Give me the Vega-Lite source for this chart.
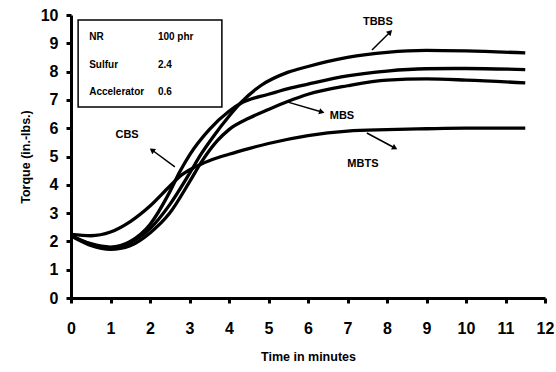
{
  "$schema": "https://vega.github.io/schema/vega-lite/v6.json",
  "width": 474,
  "height": 283,
  "autosize": {"type": "none"},
  "padding": {"left": 71, "top": 15, "right": 11, "bottom": 74},
  "background": "white",
  "config": {
    "view": {"stroke": null},
    "font": "Liberation Sans",
    "axis": {
      "grid": false,
      "domainColor": "black",
      "domainWidth": 3,
      "tickColor": "black",
      "tickWidth": 3,
      "tickSize": 5,
      "labelOverlap": false,
      "labelFlush": false,
      "labelFont": "Liberation Sans",
      "labelFontWeight": "bold",
      "labelFontSize": 16,
      "labelColor": "black",
      "titleFont": "Liberation Sans",
      "titleFontWeight": "bold",
      "titleFontSize": 12.5,
      "titleColor": "black"
    },
    "axisX": {"tickCount": 12, "labelPadding": 17, "titlePadding": 14},
    "axisY": {"tickCount": 10, "labelPadding": 8, "titlePadding": 8}
  },
  "datasets": {
    "curves": [
      {"t": 0, "torque": 2.25, "compound": "MBTS"},
      {"t": 0.5, "torque": 2.2, "compound": "MBTS"},
      {"t": 1, "torque": 2.33, "compound": "MBTS"},
      {"t": 1.5, "torque": 2.7, "compound": "MBTS"},
      {"t": 2, "torque": 3.25, "compound": "MBTS"},
      {"t": 2.5, "torque": 3.95, "compound": "MBTS"},
      {"t": 2.8, "torque": 4.35, "compound": "MBTS"},
      {"t": 3.1, "torque": 4.6, "compound": "MBTS"},
      {"t": 3.5, "torque": 4.85, "compound": "MBTS"},
      {"t": 4, "torque": 5.08, "compound": "MBTS"},
      {"t": 4.5, "torque": 5.28, "compound": "MBTS"},
      {"t": 5, "torque": 5.46, "compound": "MBTS"},
      {"t": 6, "torque": 5.74, "compound": "MBTS"},
      {"t": 7, "torque": 5.9, "compound": "MBTS"},
      {"t": 8, "torque": 5.95, "compound": "MBTS"},
      {"t": 9, "torque": 5.98, "compound": "MBTS"},
      {"t": 10, "torque": 6.0, "compound": "MBTS"},
      {"t": 11.5, "torque": 6.0, "compound": "MBTS"},

      {"t": 0, "torque": 2.2, "compound": "CBS"},
      {"t": 0.5, "torque": 1.92, "compound": "CBS"},
      {"t": 1, "torque": 1.8, "compound": "CBS"},
      {"t": 1.5, "torque": 2.0, "compound": "CBS"},
      {"t": 2, "torque": 2.6, "compound": "CBS"},
      {"t": 2.5, "torque": 3.75, "compound": "CBS"},
      {"t": 2.75, "torque": 4.45, "compound": "CBS"},
      {"t": 3, "torque": 5.05, "compound": "CBS"},
      {"t": 3.5, "torque": 5.95, "compound": "CBS"},
      {"t": 4, "torque": 6.6, "compound": "CBS"},
      {"t": 4.3, "torque": 6.88, "compound": "CBS"},
      {"t": 5, "torque": 7.2, "compound": "CBS"},
      {"t": 5.5, "torque": 7.4, "compound": "CBS"},
      {"t": 6, "torque": 7.56, "compound": "CBS"},
      {"t": 7, "torque": 7.85, "compound": "CBS"},
      {"t": 8, "torque": 8.02, "compound": "CBS"},
      {"t": 9, "torque": 8.1, "compound": "CBS"},
      {"t": 10, "torque": 8.11, "compound": "CBS"},
      {"t": 11.5, "torque": 8.07, "compound": "CBS"},

      {"t": 0, "torque": 2.2, "compound": "TBBS"},
      {"t": 0.5, "torque": 1.9, "compound": "TBBS"},
      {"t": 1, "torque": 1.77, "compound": "TBBS"},
      {"t": 1.5, "torque": 1.95, "compound": "TBBS"},
      {"t": 2, "torque": 2.45, "compound": "TBBS"},
      {"t": 2.5, "torque": 3.3, "compound": "TBBS"},
      {"t": 3, "torque": 4.4, "compound": "TBBS"},
      {"t": 3.3, "torque": 5.1, "compound": "TBBS"},
      {"t": 3.6, "torque": 5.7, "compound": "TBBS"},
      {"t": 4, "torque": 6.42, "compound": "TBBS"},
      {"t": 4.3, "torque": 6.9, "compound": "TBBS"},
      {"t": 4.8, "torque": 7.5, "compound": "TBBS"},
      {"t": 5.5, "torque": 7.98, "compound": "TBBS"},
      {"t": 6, "torque": 8.18, "compound": "TBBS"},
      {"t": 7, "torque": 8.5, "compound": "TBBS"},
      {"t": 8, "torque": 8.68, "compound": "TBBS"},
      {"t": 9, "torque": 8.75, "compound": "TBBS"},
      {"t": 10, "torque": 8.73, "compound": "TBBS"},
      {"t": 11.5, "torque": 8.66, "compound": "TBBS"},

      {"t": 0, "torque": 2.2, "compound": "MBS"},
      {"t": 0.5, "torque": 1.86, "compound": "MBS"},
      {"t": 1, "torque": 1.72, "compound": "MBS"},
      {"t": 1.5, "torque": 1.85, "compound": "MBS"},
      {"t": 2, "torque": 2.3, "compound": "MBS"},
      {"t": 2.5, "torque": 3.0, "compound": "MBS"},
      {"t": 3, "torque": 4.1, "compound": "MBS"},
      {"t": 3.3, "torque": 4.8, "compound": "MBS"},
      {"t": 3.7, "torque": 5.55, "compound": "MBS"},
      {"t": 4, "torque": 5.95, "compound": "MBS"},
      {"t": 4.5, "torque": 6.35, "compound": "MBS"},
      {"t": 5, "torque": 6.66, "compound": "MBS"},
      {"t": 5.5, "torque": 6.95, "compound": "MBS"},
      {"t": 6, "torque": 7.2, "compound": "MBS"},
      {"t": 7, "torque": 7.5, "compound": "MBS"},
      {"t": 8, "torque": 7.7, "compound": "MBS"},
      {"t": 9, "torque": 7.74, "compound": "MBS"},
      {"t": 10, "torque": 7.7, "compound": "MBS"},
      {"t": 11.5, "torque": 7.6, "compound": "MBS"}
    ],
    "box": [{"x1": 0.18, "x2": 3.82, "y1": 6.75, "y2": 9.82}],
    "legendText": [
      {"x": 0.46, "y": 9.22, "label": "NR"},
      {"x": 2.2, "y": 9.22, "label": "100 phr"},
      {"x": 0.46, "y": 8.23, "label": "Sulfur"},
      {"x": 2.2, "y": 8.23, "label": "2.4"},
      {"x": 0.46, "y": 7.28, "label": "Accelerator"},
      {"x": 2.2, "y": 7.28, "label": "0.6"}
    ],
    "arrows": [
      {"name": "TBBS", "x1": 7.62, "y1": 8.76, "x2": 8.08, "y2": 9.4, "angle": 45, "lx": 7.77, "ly": 9.75},
      {"name": "MBS", "x1": 5.47, "y1": 6.93, "x2": 6.35, "y2": 6.57, "angle": 106, "lx": 6.86, "ly": 6.43},
      {"name": "MBTS", "x1": 7.49, "y1": 5.83, "x2": 8.2, "y2": 5.3, "angle": 118, "lx": 7.39, "ly": 4.73},
      {"name": "CBS", "x1": 2.63, "y1": 4.63, "x2": 2.05, "y2": 5.23, "angle": 306, "lx": 1.42, "ly": 5.76}
    ]
  },
  "layer": [
    {
      "data": {"name": "curves"},
      "mark": {"type": "line", "color": "black", "strokeWidth": 3.3, "interpolate": "monotone"},
      "encoding": {
        "x": {
          "field": "t", "type": "quantitative",
          "scale": {"domain": [0, 12], "nice": false},
          "axis": {"title": "Time in minutes"}
        },
        "y": {
          "field": "torque", "type": "quantitative",
          "scale": {"domain": [0, 10], "nice": false},
          "axis": {"title": "Torque (in.-lbs.)"}
        },
        "detail": {"field": "compound"}
      }
    },
    {
      "data": {"name": "box"},
      "mark": {"type": "rect", "fill": "white", "stroke": "black", "strokeWidth": 1.5},
      "encoding": {
        "x": {"field": "x1", "type": "quantitative"},
        "x2": {"field": "x2"},
        "y": {"field": "y1", "type": "quantitative"},
        "y2": {"field": "y2"}
      }
    },
    {
      "data": {"name": "legendText"},
      "mark": {"type": "text", "align": "left", "baseline": "middle", "fontWeight": "bold", "fontSize": 10, "color": "black"},
      "encoding": {
        "x": {"field": "x", "type": "quantitative"},
        "y": {"field": "y", "type": "quantitative"},
        "text": {"field": "label"}
      }
    },
    {
      "data": {"name": "arrows"},
      "mark": {"type": "rule", "color": "black", "strokeWidth": 1.5},
      "encoding": {
        "x": {"field": "x1", "type": "quantitative"},
        "y": {"field": "y1", "type": "quantitative"},
        "x2": {"field": "x2"},
        "y2": {"field": "y2"}
      }
    },
    {
      "data": {"name": "arrows"},
      "mark": {"type": "point", "shape": "triangle-up", "filled": true, "color": "black", "size": 40, "opacity": 1},
      "encoding": {
        "x": {"field": "x2", "type": "quantitative"},
        "y": {"field": "y2", "type": "quantitative"},
        "angle": {"field": "angle", "type": "quantitative", "scale": null}
      }
    },
    {
      "data": {"name": "arrows"},
      "mark": {"type": "text", "align": "center", "baseline": "middle", "fontWeight": "bold", "fontSize": 11, "color": "black"},
      "encoding": {
        "x": {"field": "lx", "type": "quantitative"},
        "y": {"field": "ly", "type": "quantitative"},
        "text": {"field": "name"}
      }
    }
  ]
}
